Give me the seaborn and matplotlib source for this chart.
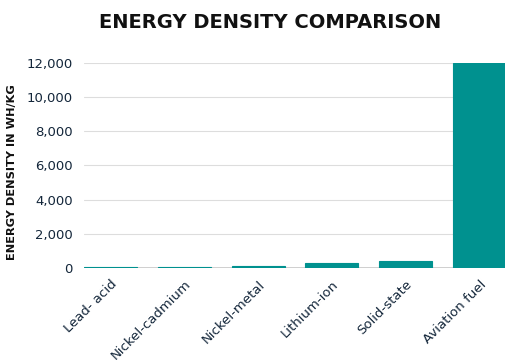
import matplotlib
matplotlib.use("Agg")
import matplotlib.pyplot as plt
import seaborn as sns
import pandas as pd

# Energy density by storage technology (Wh/kg)
categories = ["Lead- acid", "Nickel-cadmium", "Nickel-metal", "Lithium-ion", "Solid-state", "Aviation fuel"]
energy_density = [40, 70, 90, 280, 400, 12000]
y_ticks = [0, 2000, 4000, 6000, 8000, 10000, 12000]

df = pd.DataFrame({"technology": categories, "density": energy_density})

sns.set_theme(style="white")
plt.rcParams["font.family"] = ["DejaVu Sans"]

text_color = "#13263a"
bar_color = "#00918f"

fig = plt.figure(figsize=(5.06, 3.6), dpi=100)
ax = fig.add_axes([0.166, 0.2556, 0.834, 0.5694])

ax.axhline(0, color="#c8c8c8", linewidth=1.2, zorder=1)
sns.barplot(data=df, x="technology", y="density", color=bar_color,
            saturation=1, width=0.72, ax=ax, zorder=3,
            edgecolor=bar_color, linewidth=0.8)

ax.set_ylim(0, 12000)
ax.set_xlim(-0.36, 5.36)
ax.set_yticks(y_ticks)
ax.set_yticklabels([f"{v:,}" for v in y_ticks], fontsize=9.5, color=text_color)
ax.yaxis.grid(True, color="#dddddd", linewidth=0.8, zorder=0)
ax.xaxis.grid(False)

ax.set_xticks(range(len(categories)))
ax.set_xticklabels(categories, rotation=45, ha="right", rotation_mode="anchor",
                   fontsize=9.5, color=text_color)
ax.tick_params(axis="x", length=0, pad=7)
ax.tick_params(axis="y", length=0, pad=8)

for s in ax.spines.values():
    s.set_visible(False)

ax.set_xlabel("")
ax.set_ylabel("ENERGY DENSITY IN WH/KG", fontsize=8.2, fontweight="bold",
              color="#111111")
ax.yaxis.set_label_coords(-0.159, 0.47)
fig.text(0.533, 0.937, "ENERGY DENSITY COMPARISON", ha="center", va="center",
         fontsize=14, fontweight="bold", color="#111111")

fig.savefig("out.png", dpi=100, facecolor="white")
